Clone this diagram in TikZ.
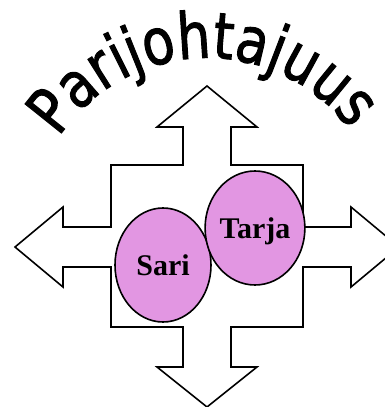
\documentclass[tikz,border=0pt]{standalone}
\usepackage{fontspec}
\setmainfont{Liberation Serif}
\newfontfamily\titlefont[FakeStretch=0.82,FakeBold=1.5]{DejaVu Sans}
\usetikzlibrary{shapes.geometric,decorations.text}
\definecolor{blobfill}{RGB}{226,150,226}
\tikzset{
  crossarrow/.style={draw=black, line width=1.6pt, fill=white, line join=miter},
  person/.style={ellipse, draw=black, line width=1.6pt, fill=blobfill,
    minimum width=96pt, minimum height=114pt, inner sep=0pt,
    font=\bfseries\fontsize{30}{30}\selectfont, text height=20pt, text depth=0pt}
}
\begin{document}
\begin{tikzpicture}[x=1pt,y=-1pt]
\useasboundingbox (0,0) rectangle (385,407);
% four-way arrow
\draw[crossarrow] (207,86) -- (257,127) -- (231,127) -- (231,165) -- (303,165)
  -- (303,227) -- (351,227) -- (351,207) -- (399,247) -- (351,287) -- (351,267)
  -- (303,267) -- (303,327) -- (231,327) -- (231,367) -- (257,367) -- (207,407)
  -- (157,367) -- (183,367) -- (183,327) -- (111,327) -- (111,267) -- (63,267)
  -- (63,287) -- (15,247) -- (63,207) -- (63,227) -- (111,227) -- (111,165)
  -- (183,165) -- (183,127) -- (157,127) -- cycle;
% people
\node[person] (sari) at (163,265) {Sari};
\node[person] (tarja) at (255,228) {Tarja};
% title on an arc
\path[decorate, decoration={text along path, text align=center,
  text={|\titlefont\fontsize{64}{64}\selectfont|Parijohtajuus}}]
  (50.6,151.1) arc[start angle=151.5, end angle=31.5, radius=178pt];
\end{tikzpicture}
\end{document}
